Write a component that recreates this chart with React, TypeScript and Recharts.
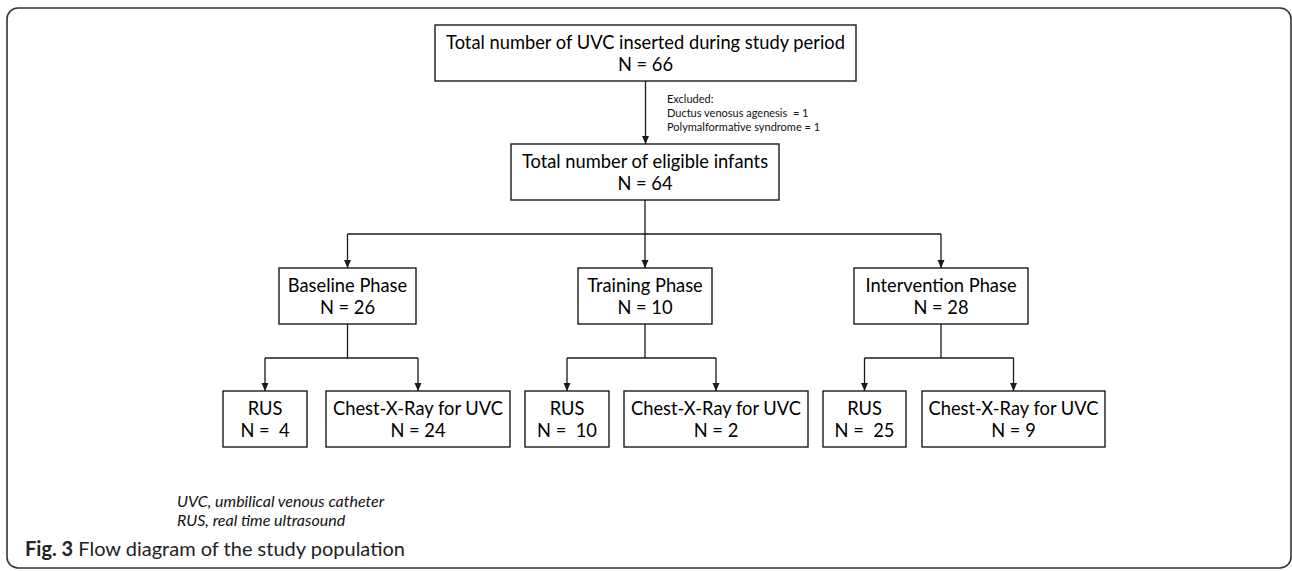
import React from 'react';
import {
    ComposedChart,
    XAxis,
    YAxis,
    ReferenceArea,
    ReferenceLine,
    ReferenceDot,
    Scatter,
} from 'recharts';

// ---- data ----
const stageLabels = ['Total number of UVC inserted during study period', 'Total number of eligible infants'];
const stageCounts = [66, 64];
const excludedReasons = ['Ductus venosus agenesis ', 'Polymalformative syndrome'];
const excludedCounts = [1, 1];
const phaseLabels = ['Baseline Phase', 'Training Phase', 'Intervention Phase'];
const phaseCounts = [26, 10, 28];
const methodLabels = ['RUS', 'Chest-X-Ray for UVC'];
const rusCounts = [4, 10, 25];
const cxrCounts = [24, 2, 9];
const abbreviations = ['UVC, umbilical venous catheter', 'RUS, real time ultrasound'];
const captionLead = 'Fig. 3';
const captionText = 'Flow diagram of the study population';

// ---- layout (chart units == pixels) ----
const W = 1292;
const H = 571;
const FONT = 'Lato, "Open Sans", sans-serif';
const INK = '#1a1a1a';

type Box = { x1: number; x2: number; y1: number; y2: number };

const frame: Box = { x1: 7, x2: 1291, y1: 8, y2: 568 };
const topBox: Box = { x1: 435, x2: 856, y1: 25, y2: 81 };
const eligibleBox: Box = { x1: 511, x2: 779, y1: 144, y2: 200 };
const phaseCols = [
    { x1: 279, x2: 416 },
    { x1: 578, x2: 712 },
    { x1: 854, x2: 1028 },
];
const phaseRow = { y1: 268, y2: 324 };
const rusCols = [
    { x1: 223, x2: 307 },
    { x1: 525, x2: 609 },
    { x1: 823, x2: 906 },
];
const cxrCols = [
    { x1: 326, x2: 510 },
    { x1: 624, x2: 808 },
    { x1: 922, x2: 1105 },
];
const methodRow = { y1: 391, y2: 447 };
const branchY = 234;
const subBranchY = 358;

const mid = (b: { x1: number; x2: number }) => (b.x1 + b.x2) / 2;

// boxes with their two text lines
const boxes: { box: Box; lines: string[] }[] = [
    { box: topBox, lines: [stageLabels[0], `N = ${stageCounts[0]}`] },
    { box: eligibleBox, lines: [stageLabels[1], `N = ${stageCounts[1]}`] },
    ...phaseCols.map((c, i) => ({
        box: { ...c, ...phaseRow },
        lines: [phaseLabels[i], `N = ${phaseCounts[i]}`],
    })),
    ...rusCols.map((c, i) => ({
        box: { ...c, ...methodRow },
        lines: [methodLabels[0], `N =  ${rusCounts[i]}`],
    })),
    ...cxrCols.map((c, i) => ({
        box: { ...c, ...methodRow },
        lines: [methodLabels[1], `N = ${cxrCounts[i]}`],
    })),
];

// connector segments, arrow tips collected separately
const segments: { x1: number; y1: number; x2: number; y2: number }[] = [];
const arrowTips: { x: number; y: number }[] = [];

segments.push({ x1: mid(topBox), y1: topBox.y2, x2: mid(topBox), y2: eligibleBox.y1 });
arrowTips.push({ x: mid(topBox), y: eligibleBox.y1 });
segments.push({ x1: mid(eligibleBox), y1: eligibleBox.y2, x2: mid(eligibleBox), y2: branchY });
segments.push({ x1: mid(phaseCols[0]), y1: branchY, x2: mid(phaseCols[2]), y2: branchY });
phaseCols.forEach((c, i) => {
    const pc = mid(c);
    segments.push({ x1: pc, y1: branchY, x2: pc, y2: phaseRow.y1 });
    arrowTips.push({ x: pc, y: phaseRow.y1 });
    segments.push({ x1: pc, y1: phaseRow.y2, x2: pc, y2: subBranchY });
    const rc = mid(rusCols[i]);
    const cc = mid(cxrCols[i]);
    segments.push({ x1: rc, y1: subBranchY, x2: cc, y2: subBranchY });
    segments.push({ x1: rc, y1: subBranchY, x2: rc, y2: methodRow.y1 });
    segments.push({ x1: cc, y1: subBranchY, x2: cc, y2: methodRow.y1 });
    arrowTips.push({ x: rc, y: methodRow.y1 });
    arrowTips.push({ x: cc, y: methodRow.y1 });
});

const excludedNote = { x: 667, y: 98, step: 14 };
const legendPos = { x: 177, y: 500, step: 19 };
const captionPos = { x: 25, y: 548 };

function boxShape(lines: string[]) {
    return (p: any) => {
        const cx = p.x + p.width / 2;
        const cy = p.y + p.height / 2;
        return (
            <g>
                <rect x={p.x} y={p.y} width={p.width} height={p.height} fill="#fff" stroke={INK} strokeWidth={1.4} />
                {lines.map((t, i) => (
                    <text
                        key={i}
                        x={cx}
                        y={cy + (i === 0 ? -11.5 : 11)}
                        textAnchor="middle"
                        dominantBaseline="central"
                        fontFamily={FONT}
                        fontSize={18.3}
                        fill="#000"
                        style={{ whiteSpace: 'pre' }}
                    >
                        {t}
                    </text>
                ))}
            </g>
        );
    };
}

const ArrowHead = (p: any) => (
    <polygon
        points={`${p.cx - 3.5},${p.cy - 8} ${p.cx + 3.5},${p.cy - 8} ${p.cx},${p.cy}`}
        fill={INK}
    />
);

export default function App() {
    return (
        <div style={{ position: 'absolute', left: 0, top: 0, background: '#fff' }}>
            <ComposedChart width={W} height={H} margin={{ top: 0, right: 0, bottom: 0, left: 0 }}>
                <XAxis type="number" dataKey="x" domain={[0, W]} allowDataOverflow hide />
                <YAxis type="number" dataKey="y" domain={[0, H]} allowDataOverflow reversed hide />

                <ReferenceArea
                    x1={frame.x1}
                    x2={frame.x2}
                    y1={frame.y1}
                    y2={frame.y2}
                    ifOverflow="visible"
                    shape={(p: any) => (
                        <rect x={p.x} y={p.y} width={p.width} height={p.height} rx={11} ry={11} fill="none" stroke="#333" strokeWidth={1.6} />
                    )}
                />

                {segments.map((s, i) => (
                    <ReferenceLine
                        key={`s${i}`}
                        segment={[{ x: s.x1, y: s.y1 }, { x: s.x2, y: s.y2 }]}
                        stroke={INK}
                        strokeWidth={1.3}
                        ifOverflow="visible"
                    />
                ))}

                {boxes.map((b, i) => (
                    <ReferenceArea
                        key={`b${i}`}
                        x1={b.box.x1}
                        x2={b.box.x2}
                        y1={b.box.y1}
                        y2={b.box.y2}
                        ifOverflow="visible"
                        shape={boxShape(b.lines)}
                    />
                ))}

                <ReferenceDot
                    x={excludedNote.x}
                    y={excludedNote.y}
                    ifOverflow="visible"
                    shape={(p: any) => (
                        <text x={p.cx} y={p.cy} fontFamily={FONT} fontSize={11} fill="#111" dominantBaseline="central" style={{ whiteSpace: 'pre' }}>
                            <tspan x={p.cx} dy={0}>Excluded:</tspan>
                            {excludedReasons.map((r, i) => (
                                <tspan key={i} x={p.cx} dy={excludedNote.step}>{`${r} = ${excludedCounts[i]}`}</tspan>
                            ))}
                        </text>
                    )}
                />

                <ReferenceDot
                    x={legendPos.x}
                    y={legendPos.y}
                    ifOverflow="visible"
                    shape={(p: any) => (
                        <text x={p.cx} y={p.cy} fontFamily={FONT} fontSize={16} fontStyle="italic" fill="#111" dominantBaseline="central">
                            {abbreviations.map((a, i) => (
                                <tspan key={i} x={p.cx} dy={i === 0 ? 0 : legendPos.step}>{a}</tspan>
                            ))}
                        </text>
                    )}
                />

                <ReferenceDot
                    x={captionPos.x}
                    y={captionPos.y}
                    ifOverflow="visible"
                    shape={(p: any) => (
                        <text x={p.cx} y={p.cy} fontFamily={FONT} fontSize={20} fill="#222" dominantBaseline="central">
                            <tspan fontWeight="bold">{captionLead}</tspan>
                            <tspan>{` ${captionText}`}</tspan>
                        </text>
                    )}
                />

                <Scatter data={arrowTips} dataKey="y" shape={<ArrowHead />} isAnimationActive={false} />
            </ComposedChart>
        </div>
    );
}
